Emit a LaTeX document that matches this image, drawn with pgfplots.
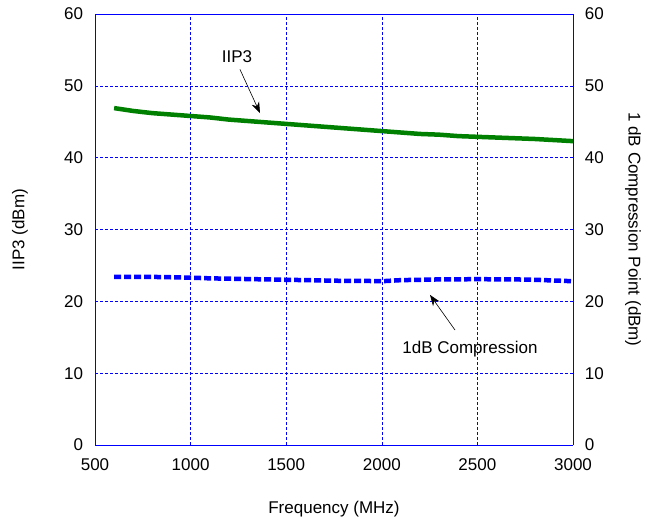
\documentclass[border=0pt]{standalone}
\usepackage{pgfplots}
\pgfplotsset{compat=1.18}
\usetikzlibrary{arrows.meta}
\usepackage{fontspec}
\setmainfont{Liberation Sans}
\begin{document}
\fontsize{17}{19}\selectfont
\begin{tikzpicture}
\begin{axis}[
  name=main,
  scale only axis, width=478pt, height=431pt,
  xmin=500, xmax=3000, ymin=0, ymax=60,
  xtick={500,1000,...,3000}, ytick={0,10,...,60},
  axis y line*=left, axis x line*=box,
  axis line style={blue, line width=0.8pt},
  grid=major, major grid style={blue, dash pattern=on 3pt off 2pt, line width=0.5pt},
  tick style={draw=none},
  /pgf/number format/assume math mode=true,
  /pgf/number format/1000 sep={},
  xlabel={Frequency (MHz)}, ylabel={IIP3 (dBm)},
  ticklabel style={font=\fontsize{17}{19}\selectfont},
  label style={font=\fontsize{17}{19}\selectfont},
  xticklabel style={yshift=-8pt},
  yticklabel style={xshift=-6pt},
  xlabel style={at={(rel axis cs:0.5,0)}, anchor=center, yshift=-64pt},
  ylabel style={at={(rel axis cs:0,0.5)}, anchor=center, rotate=0, yshift=75pt},
  clip=false,
]
\addplot[green!50!black, line width=4.5pt, line join=round] coordinates {
(600,46.9) (700,46.5) (800,46.2) (900,46.0) (1000,45.8) (1100,45.6) (1200,45.3) (1300,45.1) (1400,44.9) (1500,44.7)
(1600,44.5) (1700,44.3) (1800,44.1) (1900,43.9) (2000,43.7) (2100,43.5) (2200,43.3) (2300,43.2) (2400,43.0) (2500,42.9)
(2600,42.8) (2700,42.7) (2800,42.6) (2900,42.45) (3000,42.3)};
\addplot[blue, line width=4.5pt, dash pattern=on 7pt off 3pt] coordinates {
(600,23.4) (700,23.4) (800,23.4) (900,23.35) (1000,23.3) (1100,23.2) (1200,23.15) (1300,23.1) (1400,23.05) (1500,23.0)
(1600,22.95) (1700,22.9) (1800,22.85) (1900,22.85) (2000,22.8) (2100,22.95) (2200,23.0) (2300,23.05) (2400,23.05) (2500,23.1)
(2600,23.05) (2700,23.05) (2800,23.0) (2900,22.9) (3000,22.8)};
\node at (axis cs:1243,54) {IIP3};
\draw[-{Stealth[length=11pt,width=8pt]}, line width=0.6pt] (axis cs:1258,52.3) -- (axis cs:1363,46.2);
\node at (axis cs:2461,13.4) {1dB Compression};
\draw[-{Stealth[length=11pt,width=8pt]}, line width=0.6pt] (axis cs:2383,16.0) -- (axis cs:2252,20.9);
\end{axis}
\begin{axis}[
  scale only axis, width=478pt, height=431pt,
  xmin=500, xmax=3000, ymin=0, ymax=60,
  ytick={0,10,...,60},
  axis y line*=right, axis x line=none,
  axis line style={blue, line width=0.8pt},
  tick style={draw=none},
  /pgf/number format/assume math mode=true,
  ylabel={1 dB Compression Point (dBm)},
  ylabel style={at={(rel axis cs:1,0.5)}, anchor=center, rotate=180, yshift=60pt},
  ticklabel style={font=\fontsize{17}{19}\selectfont},
  yticklabel style={xshift=6pt},
  label style={font=\fontsize{17}{19}\selectfont},
]
\end{axis}
\path (main.south west)+(-95pt,-77pt) (main.north east)+(86pt,14pt);
\end{tikzpicture}
\end{document}
